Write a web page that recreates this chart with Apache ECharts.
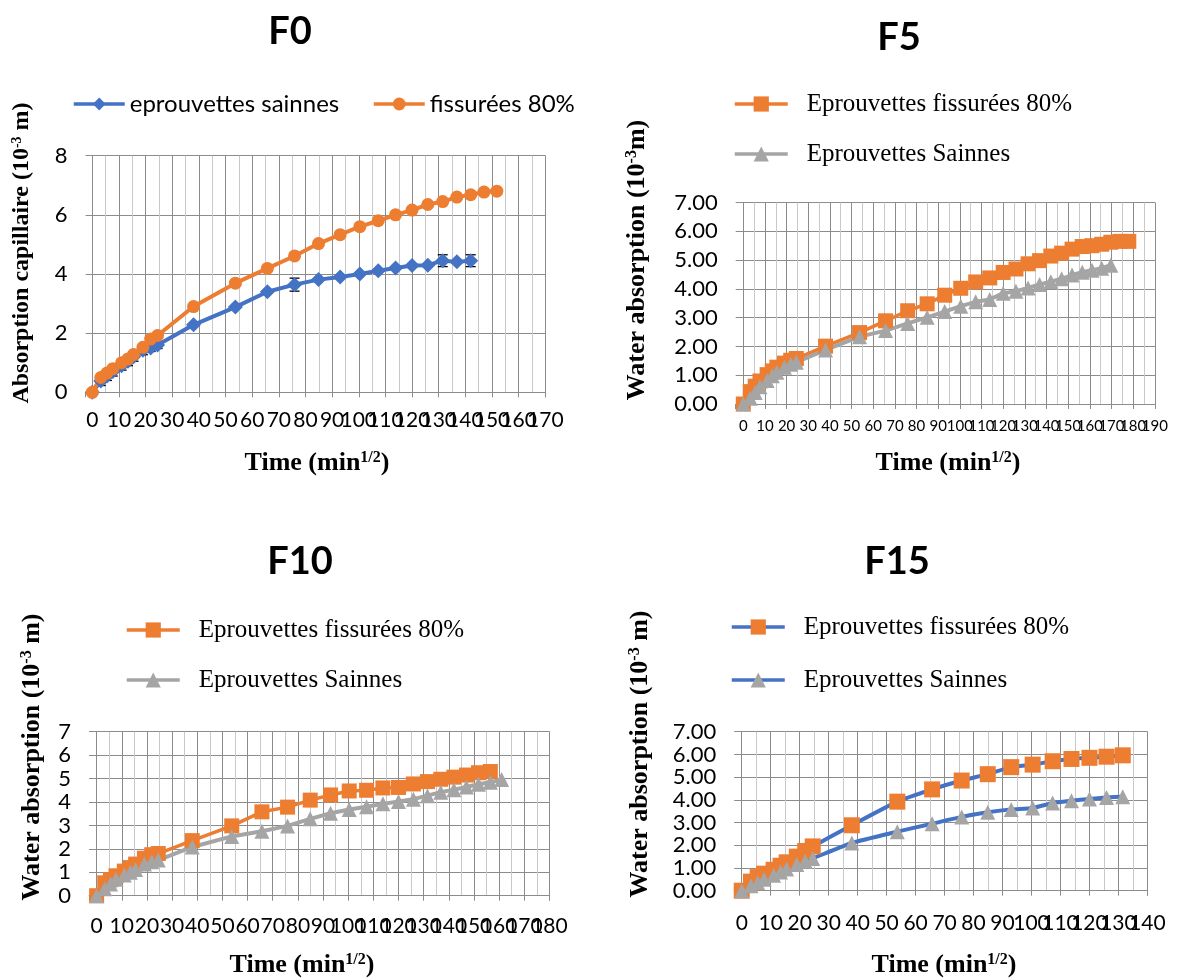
<!DOCTYPE html>
<html><head><meta charset="utf-8">
<script src="https://cdn.jsdelivr.net/npm/echarts@6/dist/echarts.min.js"></script>
<style>html,body{margin:0;padding:0;background:#fff}#c{width:1177px;height:980px}</style>
</head><body><div id="c"></div>
<script>
// Time readings (min^1/2) shared by the series
const times = [0, 3.2, 5.5, 7.7, 11, 13.4, 15.5, 19, 21.9, 24.5, 38, 53.7, 65.7, 75.9, 84.9, 93, 100.4, 107.3, 113.8, 120, 125.9, 131.5, 136.8, 142, 147, 151.8, 156.5, 161, 165.5, 169.7, 173.9, 178];

// F0
const f0Sound   = [0, 0.38, 0.55, 0.7, 0.9, 1.05, 1.2, 1.42, 1.5, 1.6, 2.28, 2.88, 3.40, 3.64, 3.81, 3.90, 4.0, 4.11, 4.20, 4.29, 4.30, 4.45, 4.41, 4.45];
const f0SoundErr = [0, 0.15, 0.15, 0.15, 0.15, 0.15, 0.15, 0.15, 0.12, 0.12, 0, 0, 0, 0.22, 0, 0, 0, 0, 0, 0, 0, 0.2, 0, 0.2];
const f0Cracked = [0, 0.5, 0.65, 0.8, 1.0, 1.13, 1.28, 1.52, 1.8, 1.92, 2.9, 3.69, 4.19, 4.61, 5.03, 5.33, 5.6, 5.8, 6.0, 6.16, 6.35, 6.45, 6.6, 6.68, 6.77, 6.8];
// F5
const f5Cracked = [0, 0.43, 0.62, 0.8, 1.02, 1.15, 1.28, 1.42, 1.52, 1.58, 2.01, 2.48, 2.89, 3.24, 3.48, 3.78, 4.02, 4.24, 4.38, 4.57, 4.69, 4.87, 4.98, 5.14, 5.24, 5.38, 5.47, 5.50, 5.55, 5.62, 5.65, 5.65];
const f5Sound   = [0, 0.2, 0.4, 0.6, 0.82, 0.98, 1.1, 1.28, 1.38, 1.45, 1.88, 2.34, 2.55, 2.80, 3.01, 3.21, 3.40, 3.55, 3.63, 3.85, 3.92, 4.03, 4.15, 4.25, 4.35, 4.48, 4.58, 4.65, 4.72, 4.82];
// F10
const f10Cracked = [0, 0.55, 0.68, 0.85, 1.05, 1.2, 1.35, 1.6, 1.75, 1.8, 2.35, 2.98, 3.58, 3.78, 4.08, 4.3, 4.47, 4.5, 4.6, 4.62, 4.77, 4.87, 4.97, 5.06, 5.15, 5.25, 5.3];
const f10Sound   = [0, 0.3, 0.5, 0.7, 0.88, 1.0, 1.12, 1.35, 1.45, 1.52, 2.08, 2.53, 2.75, 2.98, 3.28, 3.52, 3.68, 3.8, 3.92, 4.02, 4.12, 4.27, 4.42, 4.52, 4.64, 4.76, 4.84, 4.96];
// F15
const f15Cracked = [0, 0.4, 0.6, 0.75, 0.92, 1.1, 1.25, 1.5, 1.75, 1.95, 2.88, 3.92, 4.46, 4.85, 5.13, 5.44, 5.55, 5.7, 5.8, 5.85, 5.9, 5.96];
const f15Sound   = [0, 0.22, 0.35, 0.5, 0.68, 0.82, 0.95, 1.15, 1.3, 1.42, 2.1, 2.6, 2.95, 3.25, 3.45, 3.58, 3.64, 3.86, 3.96, 4.04, 4.1, 4.14];

const xTicks = [170, 190, 180, 140]; // axis maxima (tick labels every 10)
const titles = ['F0', 'F5', 'F10', 'F15'];
const legendLabels = {
  f0s: 'eprouvettes sainnes', f0c: 'fissurées 80%',
  f5c: 'Eprouvettes fissurées 80%', f5s: 'Eprouvettes Sainnes',
  f10c: 'Eprouvettes fissurées 80%', f10s: 'Eprouvettes Sainnes',
  f15c: 'Eprouvettes fissurées 80%', f15s: 'Eprouvettes Sainnes'
};

const BLUE = '#4472C4', ORANGE = '#ED7D31', GREY = '#A5A5A5';
const GRID = '#8c8c8c', MINOR = '#c9c9c9';
const SANS = 'Lato', SERIF = 'Liberation Serif';

function pairs(vals) { return vals.map((v, i) => [times[i], v]); }

const grids = [
  { left: 85.6, top: 155.7, width: 460, height: 236.6 },
  { left: 735.7, top: 202.5, width: 419.3, height: 201.5 },
  { left: 89.1, top: 731.7, width: 460.6, height: 164 },
  { left: 734.2, top: 731.7, width: 413.5, height: 159 }
];
const xMins = [-2.5, -3.5, -3, -2.6];
const xLabelSize = [21, 15, 21, 21];
const xLabelMargin = [17, 15, 20, 22];

const xAxes = grids.map((g, i) => ({
  type: 'value', gridIndex: i, min: xMins[i], max: xTicks[i] + 0.1,
  minInterval: 10, maxInterval: 10, splitNumber: 18,
  axisLine: { show: true, onZero: false, lineStyle: { color: GRID, width: 1 } },
  axisTick: { show: true, length: 5, lineStyle: { color: GRID } },
  axisLabel: {
    margin: xLabelMargin[i], fontSize: xLabelSize[i], fontFamily: SANS, color: '#000', hideOverlap: false,
    formatter: v => (Math.abs(v % 10) < 1e-6 ? String(Math.round(v)) : '')
  },
  splitLine: { show: true, showMinLine: false, showMaxLine: false, lineStyle: { color: GRID, width: 1 } },
  minorTick: { show: false, splitNumber: 2 },
  minorSplitLine: { show: true, lineStyle: { color: MINOR, width: 1 } }
}));

const yMax = [8, 7, 7, 7], yInt = [2, 1, 1, 1];
const yFmt = [v => String(v), v => v.toFixed(2), v => String(v), v => v.toFixed(2)];
const yLabelSize = [22, 22, 22, 22];
const yAxes = grids.map((g, i) => ({
  type: 'value', gridIndex: i, min: 0, max: yMax[i], interval: yInt[i],
  axisLine: { show: false }, axisTick: { show: false },
  axisLabel: { margin: 18, fontSize: yLabelSize[i], fontFamily: SANS, color: '#000', formatter: yFmt[i], showMaxLabel: true, showMinLabel: true },
  splitLine: { show: true, lineStyle: { color: GRID, width: 1 } }
}));

function lineSeries(name, gi, vals, symbol, size, lineColor, markColor, lw, smooth) {
  return {
    type: 'line', name, xAxisIndex: gi, yAxisIndex: gi, data: pairs(vals),
    symbol, symbolSize: size, showAllSymbol: true, smooth: smooth || false,
    lineStyle: { color: lineColor, width: lw },
    itemStyle: { color: markColor, borderWidth: 0 },
    emphasis: { disabled: true }, animation: false
  };
}

const errData = f0Sound.map((v, i) => [times[i], v, f0SoundErr[i]]).filter(r => r[2] > 0);

const series = [
  lineSeries('f0s', 0, f0Sound, 'diamond', 15, BLUE, BLUE, 4),
  {
    type: 'custom', xAxisIndex: 0, yAxisIndex: 0, data: errData, z: 3, animation: false,
    renderItem: (params, api) => {
      const x = api.value(0), y = api.value(1), e = api.value(2);
      const t = api.coord([x, y + e]), b = api.coord([x, y - e]);
      const hw = 5;
      const st = { stroke: '#000', lineWidth: 1.3 };
      return { type: 'group', children: [
        { type: 'line', shape: { x1: t[0], y1: t[1], x2: b[0], y2: b[1] }, style: st },
        { type: 'line', shape: { x1: t[0] - hw, y1: t[1], x2: t[0] + hw, y2: t[1] }, style: st },
        { type: 'line', shape: { x1: b[0] - hw, y1: b[1], x2: b[0] + hw, y2: b[1] }, style: st }
      ] };
    }
  },
  lineSeries('f0c', 0, f0Cracked, 'circle', 13, ORANGE, ORANGE, 4),
  lineSeries('f5c', 1, f5Cracked, 'rect', 15, ORANGE, ORANGE, 3.5),
  lineSeries('f5s', 1, f5Sound, 'triangle', 15, GREY, GREY, 4),
  lineSeries('f10c', 2, f10Cracked, 'rect', 15, ORANGE, ORANGE, 3.5),
  lineSeries('f10s', 2, f10Sound, 'triangle', 15, GREY, GREY, 4),
  lineSeries('f15c', 3, f15Cracked, 'rect', 16, BLUE, ORANGE, 4, 0.2),
  lineSeries('f15s', 3, f15Sound, 'triangle', 15, BLUE, GREY, 4, 0.2)
];

function legendItem(name, left, top, family, size, iw, ih, pad) {
  return {
    data: [name], left, top, orient: 'horizontal', padding: 0, selectedMode: false,
    itemWidth: iw, itemHeight: ih,
    lineStyle: { width: 3.5 },
    formatter: n => legendLabels[n],
    textStyle: { fontFamily: family, fontSize: size, lineHeight: size, color: '#000', padding: [0, 0, 0, pad] }
  };
}
const legends = [
  legendItem('f0s', 72, 92, SANS, 24, 51, 16, 0),
  legendItem('f0c', 372, 92, SANS, 24, 51, 16, 0),
  legendItem('f5c', 733, 91.5, SERIF, 25, 53, 19, 14),
  legendItem('f5s', 733, 141.5, SERIF, 25, 53, 19, 14),
  legendItem('f10c', 125, 617.5, SERIF, 25, 53, 19, 14),
  legendItem('f10s', 125, 667.5, SERIF, 25, 53, 19, 14),
  legendItem('f15c', 730, 614.5, SERIF, 25, 53, 19, 14),
  legendItem('f15s', 730, 667.5, SERIF, 25, 53, 19, 14)
];

function richText(main, sup, tail, size) {
  return {
    text: '{b|' + main + '}{s|' + sup + '}{b|' + tail + '}',
    align: 'center', verticalAlign: 'middle', textAlign: 'center', textVerticalAlign: 'middle',
    rich: {
      b: { fontFamily: SERIF, fontWeight: 'bold', fontSize: size, lineHeight: size, fill: '#000' },
      s: { fontFamily: SERIF, fontWeight: 'bold', fontSize: Math.round(size * 0.6), verticalAlign: 'top', lineHeight: size, padding: [0, 0, size * 0.35, 0], fill: '#000' }
    }
  };
}

const titlePos = [[290, 32], [899, 38], [300, 562], [897, 562]];
const xNamePos = [[317, 463], [948, 463], [302, 965], [944, 965]];
const yNamePos = [[22, 253], [637, 260], [32, 757], [640, 754]];
const yNames = [['Absorption capillaire (10', '-3', ' m)', 24], ['Water absorption (10', '-3', 'm)', 26], ['Water absorption (10', '-3', ' m)', 26], ['Water absorption (10', '-3', ' m)', 26]];

const graphics = [];
titles.forEach((t, i) => {
  graphics.push({ type: 'text', x: titlePos[i][0], y: titlePos[i][1], silent: true,
    style: { text: t, fontFamily: SANS, fontWeight: 'bold', fontSize: 38, fill: '#000', align: 'center', verticalAlign: 'middle', textAlign: 'center', textVerticalAlign: 'middle' } });
  graphics.push({ type: 'text', x: xNamePos[i][0], y: xNamePos[i][1], silent: true, style: richText('Time (min', '1/2', ')', 26) });
  const yn = yNames[i];
  graphics.push({ type: 'text', x: yNamePos[i][0], y: yNamePos[i][1], rotation: Math.PI / 2, silent: true, style: richText(yn[0], yn[1], yn[2], yn[3]) });
});

const chart = echarts.init(document.getElementById('c'), null, { renderer: 'canvas' });
chart.setOption({
  backgroundColor: '#fff', animation: false,
  grid: grids, xAxis: xAxes, yAxis: yAxes, series, legend: legends, graphic: graphics
});
</script></body></html>
